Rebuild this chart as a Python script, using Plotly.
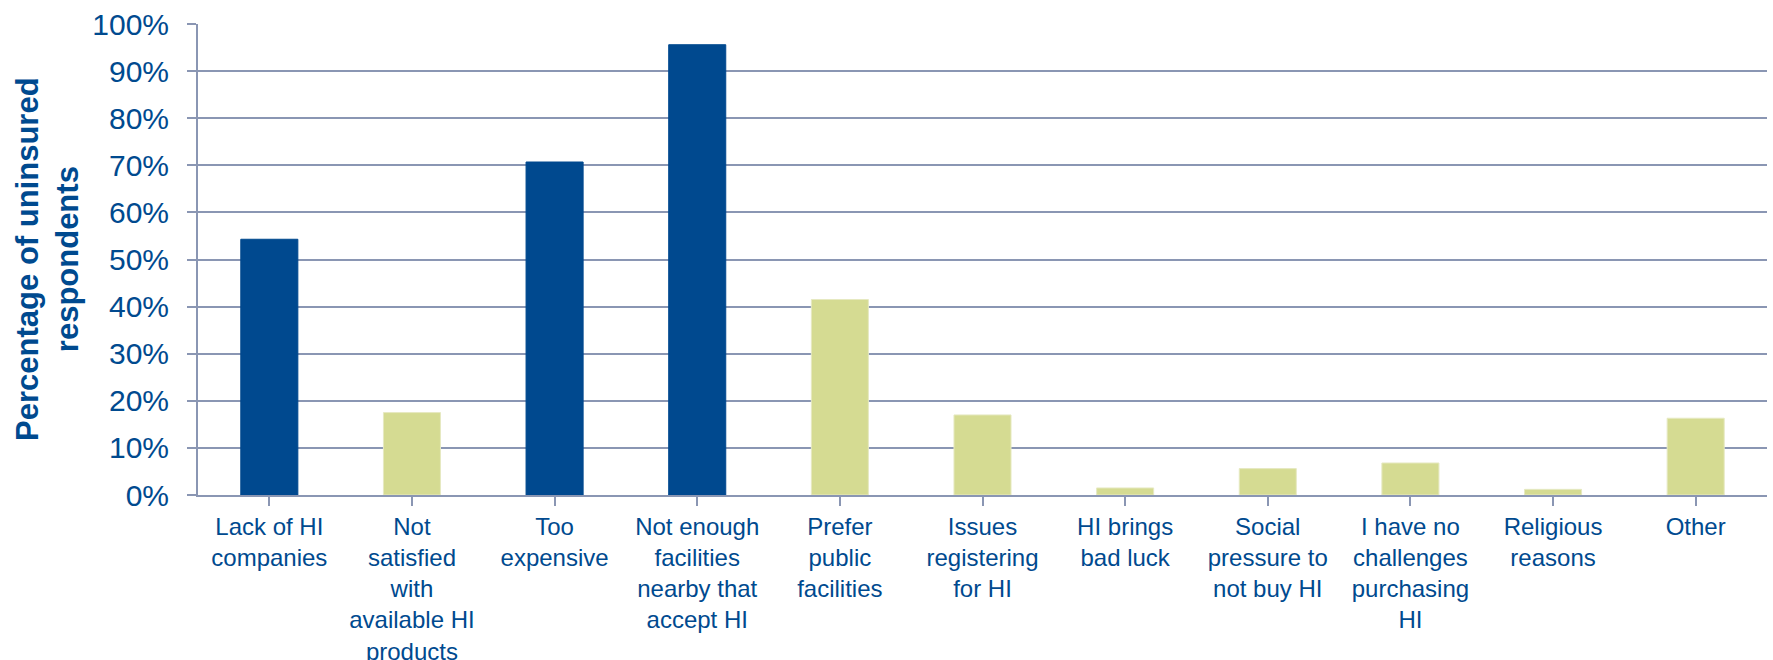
import plotly.graph_objects as go

categories = [
    "Lack of HI<br>companies",
    "Not<br>satisfied<br>with<br>available HI<br>products",
    "Too<br>expensive",
    "Not enough<br>facilities<br>nearby that<br>accept HI",
    "Prefer<br>public<br>facilities",
    "Issues<br>registering<br>for HI",
    "HI brings<br>bad luck",
    "Social<br>pressure to<br>not buy HI",
    "I have no<br>challenges<br>purchasing<br>HI",
    "Religious<br>reasons",
    "Other",
]
values = [0.543, 0.175, 0.707, 0.956, 0.415, 0.170, 0.015, 0.056, 0.068, 0.012, 0.163]
highlight = [True, False, True, True, False, False, False, False, False, False, False]

DARK = "#00498F"
LIGHT = "#D5DB92"
GRID = "#8A96B3"
TEXT = "#004A8F"
FONT = "Liberation Sans, Arial, sans-serif"

colors = [DARK if h else LIGHT for h in highlight]
line_colors = [DARK if h else "#E6E9C2" for h in highlight]

fig = go.Figure(
    go.Bar(
        x=list(range(len(categories))),
        y=values,
        marker=dict(color=colors, line=dict(color=line_colors, width=1)),
        width=0.4,
        hoverinfo="skip",
    )
)

fig.update_layout(
    width=1773,
    height=660,
    margin=dict(l=198, r=6, t=24, b=165, autoexpand=False),
    plot_bgcolor="white",
    paper_bgcolor="white",
    showlegend=False,
    font=dict(family=FONT, color=TEXT),
    bargap=0.6,
)

fig.update_xaxes(
    tickmode="array",
    tickvals=list(range(len(categories))),
    ticktext=categories,
    range=[-0.5, len(categories) - 0.5],
    tickson="boundaries",
    ticks="outside",
    ticklen=9,
    tickwidth=1.5,
    tickcolor=GRID,
    showline=True,
    linecolor=GRID,
    linewidth=2,
    showgrid=False,
    tickfont=dict(size=24, color=TEXT, family=FONT),
    tickangle=0,
    automargin=False,
)

fig.update_yaxes(
    range=[0, 1],
    dtick=0.1,
    tick0=0,
    tickformat=".0%",
    ticks="outside",
    ticklen=9,
    tickwidth=1.5,
    tickcolor=GRID,
    showline=True,
    linecolor=GRID,
    linewidth=2,
    showgrid=True,
    gridcolor=GRID,
    gridwidth=1.5,
    zeroline=False,
    tickfont=dict(size=30, color=TEXT, family=FONT),
    ticklabelstandoff=12,
    automargin=False,
)

fig.add_annotation(
    text="<b>Percentage of uninsured<br>respondents</b>",
    xref="paper",
    yref="paper",
    x=-0.096,
    y=0.5,
    xanchor="center",
    yanchor="middle",
    textangle=-90,
    showarrow=False,
    font=dict(size=31, color=TEXT, family=FONT),
)

fig.write_html(
    "out.html",
    config={"displayModeBar": False},
    post_script="document.body.style.margin='0';document.body.style.overflow='hidden';",
)
